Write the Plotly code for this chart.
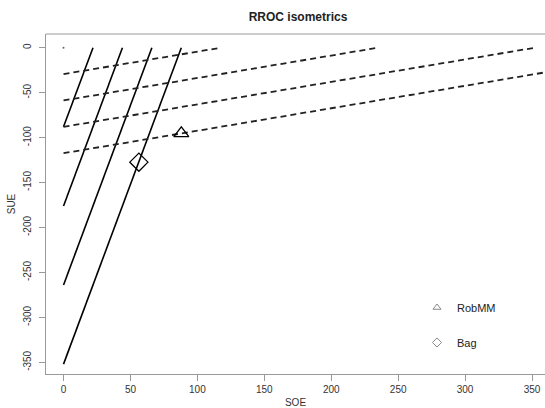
import plotly.graph_objects as go

# Solid isometrics (endpoints)
solid_x0 = [0, 0, 0, 0]
solid_y0 = [-88, -176, -264, -352]
solid_x1 = [22, 44, 66, 88]
solid_y1 = [0, 0, 0, 0]

# Dashed isometrics (endpoints)
dash_x0 = [0, 0, 0, 0]
dash_y0 = [-29.33, -58.67, -88, -117.33]
dash_x1 = [117.33, 234.67, 352, 469.33]
dash_y1 = [0, 0, 0, 0]

# Models
model_names = ["RobMM", "Bag"]
model_soe = [88, 56.3]
model_sue = [-95.3, -127.3]
model_symbols = ["triangle-up-open", "diamond-open"]
model_sizes = [13, 14]

x_ticks = [0, 50, 100, 150, 200, 250, 300, 350]
y_ticks = [0, -50, -100, -150, -200, -250, -300, -350]

fig = go.Figure()

for i in range(len(solid_x0)):
    fig.add_trace(go.Scatter(x=[solid_x0[i], solid_x1[i]], y=[solid_y0[i], solid_y1[i]],
                             mode="lines", line=dict(color="black", width=1.6),
                             showlegend=False, hoverinfo="skip"))
for i in range(len(dash_x0)):
    fig.add_trace(go.Scatter(x=[dash_x0[i], dash_x1[i]], y=[dash_y0[i], dash_y1[i]],
                             mode="lines", line=dict(color="#222", width=1.8, dash="6px,4px"),
                             showlegend=False, hoverinfo="skip"))

# degenerate isometric at origin
fig.add_trace(go.Scatter(x=[0], y=[0], mode="markers",
                         marker=dict(color="#666", size=2), showlegend=False, hoverinfo="skip"))

for i in range(len(model_names)):
    fig.add_trace(go.Scatter(x=[model_soe[i]], y=[model_sue[i]], mode="markers",
                             marker=dict(symbol=model_symbols[i], size=model_sizes[i], color="black",
                                         line=dict(width=1.3, color="black")),
                             showlegend=False, name=model_names[i]))
    fig.add_trace(go.Scatter(x=[None], y=[None], mode="markers", name=model_names[i],
                             legendgroup=model_names[i],
                             marker=dict(symbol=model_symbols[i], size=7, color="#888",
                                         line=dict(width=1, color="#888"))))

fig.update_layout(
    width=545, height=408,
    margin=dict(l=46, r=0, t=34, b=34),
    paper_bgcolor="white", plot_bgcolor="white",
    font=dict(family="Liberation Sans, Arial, sans-serif", color="#333", size=10),
    title=dict(text="<b>RROC isometrics</b>", x=298/545, xanchor="center", y=1-17/408, yanchor="middle",
               font=dict(size=12, color="#222")),
    legend=dict(x=(417-46)/499, xanchor="left", y=(374-293)/340, yanchor="top",
                bgcolor="rgba(0,0,0,0)", font=dict(size=11, color="#222"),
                tracegroupgap=16, traceorder="grouped"),
    xaxis=dict(range=[-13.1, 359.7], tickvals=x_ticks, ticktext=[str(v) for v in x_ticks],
               automargin=False,
               showgrid=False, zeroline=False, showline=True, linecolor="#999", linewidth=1,
               ticks="outside", ticklen=6, tickcolor="#999",
               title=dict(text="SOE", font=dict(size=10, color="#333"), standoff=6)),
    yaxis=dict(range=[-363, 15.3], tickvals=y_ticks, ticktext=[str(v) for v in y_ticks],
               tickangle=-90, automargin=False, ticklabelstandoff=4,
               showgrid=False, zeroline=False, showline=True, linecolor="#999", linewidth=1,
               ticks="outside", ticklen=6, tickcolor="#999",
               title=dict(text="SUE", font=dict(size=10, color="#333"), standoff=4)),
    shapes=[dict(type="line", xref="paper", yref="paper", x0=0, x1=1, y0=1, y1=1,
                 line=dict(color="#bbb", width=1.5))],
)

fig.write_html("out.html", config={"displayModeBar": False},
               post_script="document.body.style.margin='0';document.body.style.overflow='hidden';")
